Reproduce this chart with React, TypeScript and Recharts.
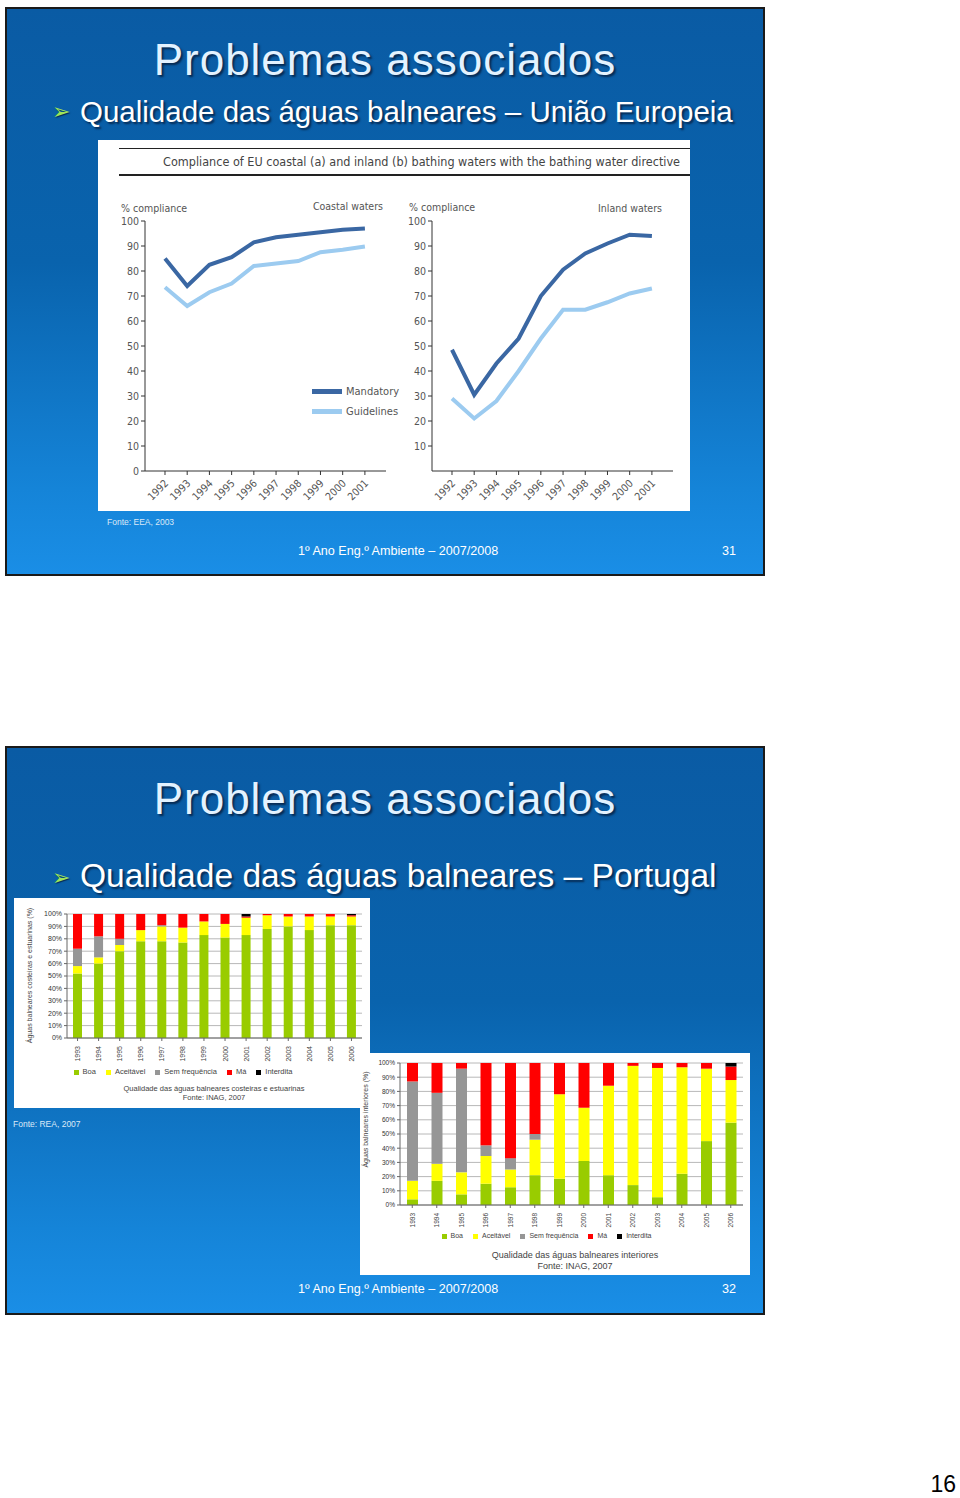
import React from 'react';
import { LineChart, Line, XAxis, YAxis, Legend, BarChart, Bar, CartesianGrid } from 'recharts';

// EEA compliance (%), 1992-2001
const years = [1992, 1993, 1994, 1995, 1996, 1997, 1998, 1999, 2000, 2001];
const coastalMandatory = [85, 74, 82.5, 85.5, 91.5, 93.5, 94.5, 95.5, 96.5, 97];
const coastalGuidelines = [73.5, 66, 71.5, 75, 82, 83, 84, 87.5, 88.5, 89.8];
const inlandMandatory = [48.5, 30.5, 43, 53, 70, 80.5, 87, 91, 94.5, 94];
const inlandGuidelines = [29, 21, 28, 40, 53, 64.5, 64.5, 67.5, 71, 73];

// INAG quality classes (%), 1993-2006
const barYears = ['1993', '1994', '1995', '1996', '1997', '1998', '1999', '2000', '2001', '2002', '2003', '2004', '2005', '2006'];
const costBoa = [52, 60, 70, 78, 78, 77, 83, 81, 83, 88, 90, 87, 91, 91];
const costAceitavel = [6, 5, 5, 9, 12, 12, 11, 11, 14, 11, 8, 11, 7, 7];
const costSemFreq = [14, 17, 5, 0, 1, 0, 0, 0, 0, 0, 0, 0, 0, 0];
const costMa = [28, 18, 20, 13, 9, 11, 6, 8, 1, 1, 2, 2, 2, 1];
const costInterdita = [0, 0, 0, 0, 0, 0, 0, 0, 2, 0, 0, 0, 0, 1];

const intBoa = [4, 17, 7.5, 15, 12.5, 21, 18.5, 31, 21, 14, 5.5, 22, 45, 58];
const intAceitavel = [13, 12, 15.5, 19.5, 12.5, 25, 59.5, 37.5, 63, 84, 91, 75, 51, 30];
const intSemFreq = [70, 50, 73, 7.5, 8, 4, 0, 0, 0, 0, 0, 0, 0, 0];
const intMa = [13, 21, 4, 58, 67, 50, 22, 31.5, 16, 2, 3.5, 3, 4, 9.5];
const intInterdita = [0, 0, 0, 0, 0, 0, 0, 0, 0, 0, 0, 0, 0, 2.5];

const yearTicks = years;
const compTicks = [0, 10, 20, 30, 40, 50, 60, 70, 80, 90, 100];
const pctTicks = [0, 10, 20, 30, 40, 50, 60, 70, 80, 90, 100];

const coastalData = years.map((y, i) => ({ year: y, Mandatory: coastalMandatory[i], Guidelines: coastalGuidelines[i] }));
const inlandData = years.map((y, i) => ({ year: y, Mandatory: inlandMandatory[i], Guidelines: inlandGuidelines[i] }));
const costData = barYears.map((y, i) => ({
  year: y, Boa: costBoa[i], 'Aceitável': costAceitavel[i], 'Sem frequência': costSemFreq[i], 'Má': costMa[i], Interdita: costInterdita[i],
}));
const intData = barYears.map((y, i) => ({
  year: y, Boa: intBoa[i], 'Aceitável': intAceitavel[i], 'Sem frequência': intSemFreq[i], 'Má': intMa[i], Interdita: intInterdita[i],
}));

const DARK = '#3a67a3';
const LIGHT = '#9ccbf0';
const classColors: Record<string, string> = {
  Boa: '#99cc00', 'Aceitável': '#ffff00', 'Sem frequência': '#969696', 'Má': '#ff0000', Interdita: '#000000',
};
const classes = ['Boa', 'Aceitável', 'Sem frequência', 'Má', 'Interdita'];

const SANS = "'Liberation Sans', Arial, sans-serif";
const NARROW = "'Liberation Sans Narrow', 'DejaVu Sans Condensed', 'Liberation Sans', sans-serif";

const YearTick = (props: any) => {
  const { x, y, payload } = props;
  return (
    <text x={x + 4} y={y + 7} transform={`rotate(-45 ${x + 4} ${y + 7})`} textAnchor="end" fontSize={10.5}
      fill="#555" fontFamily={NARROW}>
      {payload.value}
    </text>
  );
};

const VertTick = (props: any) => {
  const { x, y, payload, size } = props;
  return (
    <text x={x + 2.5} y={y + 3} transform={`rotate(-90 ${x + 2.5} ${y + 3})`} textAnchor="end" fontSize={size}
      fill="#444" fontFamily={SANS}>
      {payload.value}
    </text>
  );
};

const ComplianceChart = ({ data, ticks }: { data: any[]; ticks: number[] }) => (
  <LineChart width={293} height={316} data={data} margin={{ top: 31, right: 5, left: 0, bottom: 0 }}>
    <XAxis dataKey="year" type="number" domain={[1991.1, 2001.95]} ticks={yearTicks} interval={0}
      tick={<YearTick />} tickSize={4} height={35} stroke="#333" />
    <YAxis domain={[0, 100]} ticks={ticks} interval={0} width={47} tickSize={4} stroke="#333"
      tick={{ fontSize: 10.5, fill: '#555', fontFamily: NARROW }} />
    <Line dataKey="Guidelines" stroke={LIGHT} strokeWidth={4} dot={false} isAnimationActive={false} />
    <Line dataKey="Mandatory" stroke={DARK} strokeWidth={4} dot={false} isAnimationActive={false} />
  </LineChart>
);

const QualityChart = ({ data, width, height, marginTop, marginRight, yWidth, xHeight, legendH, barSize, fs }: any) => (
  <BarChart width={width} height={height} data={data} barSize={barSize}
    margin={{ top: marginTop, right: marginRight, left: 0, bottom: 0 }}>
    <CartesianGrid vertical={false} stroke="#b8b8b8" />
    <XAxis dataKey="year" interval={0} tick={<VertTick size={fs} />} tickSize={3} height={xHeight} stroke="#666" />
    <YAxis domain={[0, 100]} ticks={pctTicks} interval={0} width={yWidth} tickSize={3} stroke="#666"
      tickFormatter={(v: number) => `${v}%`} tick={{ fontSize: fs, fill: '#333', fontFamily: SANS }} />
    <YAxis yAxisId="frame" orientation="right" width={0} tick={false} tickLine={false} stroke="#888" />
    {classes.map((k) => (
      <Bar key={k} dataKey={k} stackId="q" fill={classColors[k]} isAnimationActive={false} />
    ))}
    <Legend verticalAlign="bottom" height={legendH} iconType="square" iconSize={5} itemSorter={null as any}
      formatter={(v: string) => <span style={{ color: '#444' }}>{v}</span>}
      wrapperStyle={{ fontSize: fs + 0.5, fontFamily: SANS, lineHeight: `${legendH}px` }} />
  </BarChart>
);

const abs = (left: number, top: number, extra: React.CSSProperties = {}): React.CSSProperties => ({
  position: 'absolute', left, top, ...extra,
});

const Slide = ({ top, children }: { top: number; children: React.ReactNode }) => (
  <div style={abs(5, top, {
    width: 760, height: 569, boxSizing: 'border-box', border: '2px solid #1a1a1a',
    background: 'linear-gradient(to bottom, #0a5ba4 0%, #0963ad 45%, #1584d8 85%, #1a8ee6 100%)',
  })}>
    {children}
  </div>
);

const titleStyle: React.CSSProperties = {
  fontFamily: SANS, fontSize: 44, letterSpacing: 1, lineHeight: '44px', color: '#e3f2ff',
  textShadow: '2px 2px 2px #072a52', width: 760, textAlign: 'center', whiteSpace: 'nowrap',
};
const subStyle = (fs: number): React.CSSProperties => ({
  fontFamily: SANS, fontSize: fs, lineHeight: `${fs}px`, color: '#ffffff',
  textShadow: '2px 2px 2px #072a52', whiteSpace: 'nowrap',
});
const footStyle: React.CSSProperties = {
  fontFamily: SANS, fontSize: 12.6, lineHeight: '13px', color: '#ffffff', whiteSpace: 'nowrap',
};
const bullet: React.CSSProperties = {
  fontFamily: "'DejaVu Sans', sans-serif", color: '#9ee35a', textShadow: '1px 1px 1px #072a52', fontSize: 22, lineHeight: '22px',
};

export default function App() {
  return (
    <div style={abs(0, 0, { width: 960, height: 1498, background: '#ffffff', overflow: 'hidden' })}>
      {/* Slide 31 */}
      <Slide top={7}>
        <div style={{ ...abs(-2, 29), ...titleStyle }}>Problemas associados</div>
        <div style={{ ...abs(45, 92), ...bullet }}>➢</div>
        <div style={{ ...abs(73, 88), ...subStyle(29.5) }}>Qualidade das águas balneares – União Europeia</div>
        <div style={{ ...abs(100, 508), fontFamily: SANS, fontSize: 8.5, color: '#dbe9f7' }}>Fonte: EEA, 2003</div>
        <div style={{ ...abs(291, 536), ...footStyle }}>1º Ano Eng.º Ambiente – 2007/2008</div>
        <div style={{ ...abs(715, 536), ...footStyle }}>31</div>
      </Slide>

      <div style={abs(98, 140, { width: 592, height: 371, background: '#ffffff' })}>
        <div style={abs(21, 8, { width: 571, height: 0, borderTop: '1.5px solid #222' })} />
        <div style={abs(21, 34, { width: 571, height: 0, borderTop: '2.5px solid #222' })} />
        <div style={{ ...abs(0, 14), width: 582, textAlign: 'right', fontFamily: NARROW, fontSize: 12.5, color: '#444', whiteSpace: 'nowrap' }}>
          Compliance of EU coastal (a) and inland (b) bathing waters with the bathing water directive
        </div>
        <div style={{ ...abs(23, 62), fontFamily: NARROW, fontSize: 10.5, color: '#555' }}>% compliance</div>
        <div style={{ ...abs(185, 60), width: 100, textAlign: 'right', fontFamily: NARROW, fontSize: 10.5, color: '#555' }}>Coastal waters</div>
        <div style={{ ...abs(311, 61), fontFamily: NARROW, fontSize: 10.5, color: '#555' }}>% compliance</div>
        <div style={{ ...abs(464, 62), width: 100, textAlign: 'right', fontFamily: NARROW, fontSize: 10.5, color: '#555' }}>Inland waters</div>
      </div>
      <div style={abs(98, 190)}>
        <ComplianceChart data={coastalData} ticks={compTicks} />
      </div>
      <div style={abs(385, 190)}>
        <ComplianceChart data={inlandData} ticks={compTicks.slice(1)} />
      </div>
      <div style={abs(312, 381, { fontFamily: NARROW, fontSize: 11, color: '#555' })}>
        {[['Mandatory', DARK], ['Guidelines', LIGHT]].map(([name, c]) => (
          <div key={name} style={{ display: 'flex', alignItems: 'center', height: 20, whiteSpace: 'nowrap' }}>
            <span style={{ display: 'inline-block', width: 30, height: 5, background: c, marginRight: 4 }} />
            {name}
          </div>
        ))}
      </div>

      {/* Slide 32 */}
      <Slide top={746}>
        <div style={{ ...abs(-2, 29), ...titleStyle }}>Problemas associados</div>
        <div style={{ ...abs(45, 119), ...bullet }}>➢</div>
        <div style={{ ...abs(73, 111), ...subStyle(33.6) }}>Qualidade das águas balneares – Portugal</div>
        <div style={{ ...abs(6, 371), fontFamily: SANS, fontSize: 8.5, color: '#dbe9f7' }}>Fonte: REA, 2007</div>
        <div style={{ ...abs(291, 535), ...footStyle }}>1º Ano Eng.º Ambiente – 2007/2008</div>
        <div style={{ ...abs(715, 535), ...footStyle }}>32</div>
      </Slide>

      <div style={abs(14, 898, { width: 356, height: 210, background: '#ffffff', overflow: 'hidden' })}>
        <QualityChart data={costData} width={356} height={180} marginTop={16} marginRight={8} yWidth={53}
          xHeight={28} legendH={12} barSize={9} fs={7} />
        <div style={{ ...abs(-60, 74), width: 150, transform: 'rotate(-90deg)', textAlign: 'center', fontFamily: SANS, fontSize: 7, color: '#444', whiteSpace: 'nowrap' }}>
          Águas balneares costeiras e estuarinas (%)
        </div>
        <div style={{ ...abs(0, 186), width: 400, textAlign: 'center', fontFamily: SANS, fontSize: 7.5, color: '#444', lineHeight: '9px' }}>
          Qualidade das águas balneares costeiras e estuarinas<br />Fonte: INAG, 2007
        </div>
      </div>

      <div style={abs(360, 1053, { width: 390, height: 222, background: '#ffffff', overflow: 'hidden' })}>
        <QualityChart data={intData} width={390} height={190} marginTop={10} marginRight={7} yWidth={40}
          xHeight={24} legendH={14} barSize={11} fs={6.5} />
        <div style={{ ...abs(-55, 63), width: 120, transform: 'rotate(-90deg)', textAlign: 'center', fontFamily: SANS, fontSize: 7, color: '#444', whiteSpace: 'nowrap' }}>
          Águas balneares interiores (%)
        </div>
        <div style={{ ...abs(20, 197), width: 390, textAlign: 'center', fontFamily: SANS, fontSize: 9, color: '#444', lineHeight: '11px' }}>
          Qualidade das águas balneares interiores<br />Fonte: INAG, 2007
        </div>
      </div>

      <div style={{ ...abs(910, 1473), width: 46, textAlign: 'right', fontFamily: SANS, fontSize: 23, lineHeight: '23px', color: '#000' }}>16</div>
    </div>
  );
}
